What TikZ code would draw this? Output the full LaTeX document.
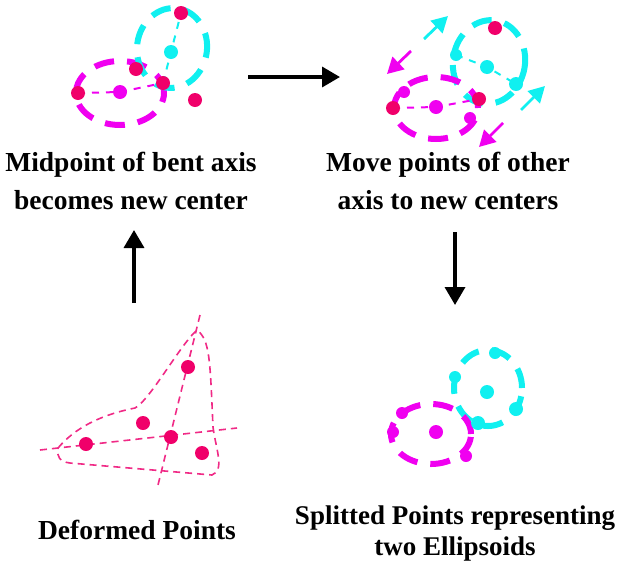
\documentclass[tikz,border=0pt]{standalone}
\usepackage{fontspec}
\setmainfont{Liberation Serif}
\usepackage{tikz}
\usetikzlibrary{arrows.meta}
\definecolor{magpt}{HTML}{F000F0}
\definecolor{cyanpt}{HTML}{10F0F0}
\definecolor{redpt}{HTML}{F0006A}
\definecolor{pinkln}{HTML}{F02A86}
\tikzset{
  ring/.style={line width=6pt,dash pattern=on 20pt off 13pt},
  link/.style={line width=2pt,dash pattern=on 7pt off 7pt},
  deform/.style={pinkln,line width=1.6pt,dash pattern=on 7pt off 5pt},
  bigarrow/.style={line width=3.5pt,-{Triangle[length=18pt,width=20pt]}},
  movearrow/.style={line width=2.8pt,-{Triangle[length=16pt,width=17pt]}},
  caption/.style={align=center,font=\bfseries\fontsize{27.5}{38}\selectfont}
}
\begin{document}
\begin{tikzpicture}[x=1pt,y=-1pt]
            \useasboundingbox (0,0) rectangle (620,568);
            % top left: bent axis
            \draw[ring,magpt] (120,93) ellipse [x radius=44pt,y radius=32pt];
            \draw[ring,cyanpt,rotate around={-8:(172,48)}] (172,48) ellipse [x radius=35pt,y radius=40pt];
            \coordinate (A1) at (78,93);
            \coordinate (A2) at (120,92);
            \coordinate (A3) at (163,83);
            \coordinate (A4) at (171,52);
            \coordinate (A5) at (181,13);
            \draw[link,magpt] (A1) -- (A2) -- (A3);
            \draw[link,cyanpt] (A3) -- (A4) -- (A5);
            \fill[magpt] (A2) circle (7pt);
            \fill[cyanpt] (A4) circle (7pt);
            \fill[redpt] (A1) circle (7pt);
            \fill[redpt] (A3) circle (7pt);
            \fill[redpt] (A5) circle (7pt);
            \fill[redpt] (136,69) circle (7pt);
            \fill[redpt] (195,100) circle (7pt);
            \node[caption] (midtext) at (131,181) {Midpoint of bent axis\\becomes new center};
            % top right: moving points
            \draw[ring,cyanpt,rotate around={-10:(489,62)}] (489,62) ellipse [x radius=36pt,y radius=42pt];
            \draw[ring,magpt] (436,108) ellipse [x radius=42pt,y radius=31pt];
            \coordinate (B1) at (393,108);
            \coordinate (B2) at (436,107);
            \coordinate (B3) at (479,99);
            \coordinate (B4) at (456,55);
            \coordinate (B5) at (487,67);
            \coordinate (B6) at (516,84);
            \draw[link,magpt] (B1) -- (B2) -- (B3);
            \draw[link,cyanpt] (B4) -- (B5) -- (B6);
            \fill[cyanpt] (B4) circle (6pt);
            \fill[cyanpt] (B5) circle (7pt);
            \fill[cyanpt] (B6) circle (7pt);
            \fill[magpt] (B2) circle (7pt);
            \fill[magpt] (404,92) circle (6pt);
            \fill[magpt] (470,118) circle (6pt);
            \fill[redpt] (B1) circle (7pt);
            \fill[redpt] (B3) circle (7pt);
            \fill[redpt] (495,28) circle (7pt);
            \draw[movearrow,cyanpt] (424,39) -- (448,16);
            \draw[movearrow,cyanpt] (521,110) -- (545,86);
            \draw[movearrow,magpt] (411,51) -- (387,74);
            \draw[movearrow,magpt] (503,123) -- (479,147);
            \node[caption] (movetext) at (448,181) {Move points of other\\axis to new centers};
            % bottom left: deformed points
            \draw[deform] (58,448) .. controls (75,428) and (100,415) .. (135,408)
              .. controls (150,400) and (180,345) .. (197,330)
              .. controls (210,340) and (210,360) .. (213,427)
              .. controls (216,450) and (225,470) .. (212,475)
              -- (70,463) .. controls (60,462) and (56,456) .. cycle;
            \coordinate (C1) at (40,450);
            \coordinate (C2) at (237,428);
            \coordinate (C3) at (200,315);
            \coordinate (C4) at (158,485);
            \draw[deform] (C1) -- (C2);
            \draw[deform] (C3) -- (C4);
            \fill[redpt] (86,444) circle (7pt);
            \fill[redpt] (143,423) circle (7pt);
            \fill[redpt] (171,437) circle (7pt);
            \fill[redpt] (188,367) circle (7pt);
            \fill[redpt] (202,453) circle (7pt);
            \node[caption] (deftext) at (137,530) {Deformed Points};
            % bottom right: split points
            \draw[ring,cyanpt] (488,388) ellipse [x radius=34pt,y radius=38pt];
            \draw[ring,magpt] (431,434) ellipse [x radius=40pt,y radius=30pt];
            \fill[cyanpt] (487,392) circle (7pt);
            \fill[cyanpt] (516,409) circle (7pt);
            \fill[cyanpt] (478,423) circle (7pt);
            \fill[cyanpt] (495,353) circle (6pt);
            \fill[cyanpt] (455,377) circle (6pt);
            \fill[magpt] (436,432) circle (7pt);
            \fill[magpt] (402,413) circle (6pt);
            \fill[magpt] (393,432) circle (6pt);
            \fill[magpt] (466,456) circle (6pt);
            \node[caption,font=\bfseries\fontsize{27}{31}\selectfont] (splittext) at (455,533) {Splitted Points representing\\two Ellipsoids};
            % arrows between steps
            \coordinate (U1) at (134,303);
            \coordinate (U2) at (134,230);
            \coordinate (R1) at (248,77);
            \coordinate (R2) at (340,77);
            \coordinate (D1) at (455,232);
            \coordinate (D2) at (455,305);
            \draw[bigarrow] (U1) -- (U2);
            \draw[bigarrow] (R1) -- (R2);
            \draw[bigarrow] (D1) -- (D2);
        \end{tikzpicture}
\end{document}
